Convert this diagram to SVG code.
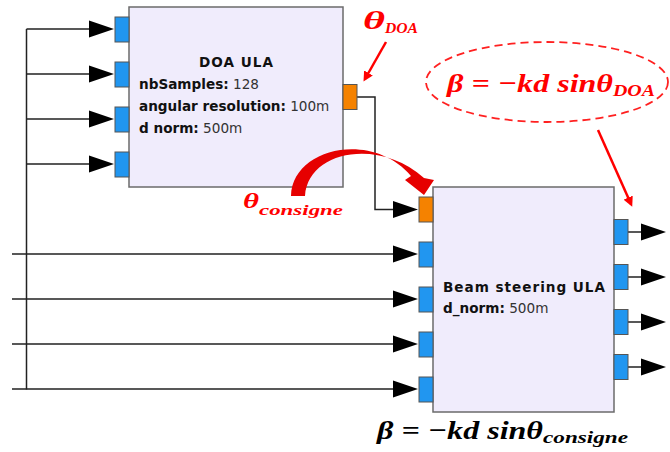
<svg xmlns="http://www.w3.org/2000/svg" width="670" height="452" viewBox="0 0 670 452">
<style>
.blk{fill:#f0ecfc;stroke:#6b6b6b;stroke-width:1.5}
.pin{fill:#2196f0;stroke:#555;stroke-width:1}
.pout{fill:#f58200;stroke:#555;stroke-width:1}
.wire{fill:none;stroke:#222;stroke-width:1.5}
.ah{fill:#000}
.t{font-family:"DejaVu Sans",sans-serif;font-size:13.6px;fill:#333}
.b{font-weight:bold;fill:#111}
.m{font-family:"Liberation Serif","DejaVu Serif",serif;font-weight:bold;font-style:italic}
.red{fill:#ff0000}
.rl{stroke:#ff0000;stroke-width:2.5;fill:none}
</style>
<defs>
<marker id="ra" markerWidth="10" markerHeight="10" refX="7" refY="5" orient="auto" markerUnits="userSpaceOnUse" viewBox="0 0 10 10">
<path d="M0,0 L10,5 L0,10 z" fill="#ff0000"/>
</marker>
<path id="arr" d="M0,-8.5 L25,0 L0,8.5 z" class="ah"/>
</defs>

<g id="connectors">
<path class="wire" d="M26.5,29 V389.5"/>
<path class="wire" d="M26.5,29 H92 M26.5,74 H92 M26.5,119 H92 M26.5,164 H92"/>
<path class="wire" d="M12,254 H396 M12,299 H396 M12,344 H396 M12,389 H396"/>
<path class="wire" d="M357,97 H375 V209.5 H396"/>
<path class="wire" d="M628,232 H644 M628,277 H644 M628,322 H644 M628,367 H644"/>
<use href="#arr" x="89" y="29"/>
<use href="#arr" x="89" y="74"/>
<use href="#arr" x="89" y="119"/>
<use href="#arr" x="89" y="164"/>
<use href="#arr" x="393" y="209.5"/>
<use href="#arr" x="393" y="254"/>
<use href="#arr" x="393" y="299"/>
<use href="#arr" x="393" y="344"/>
<use href="#arr" x="393" y="389"/>
<use href="#arr" x="641" y="232"/>
<use href="#arr" x="641" y="277"/>
<use href="#arr" x="641" y="322"/>
<use href="#arr" x="641" y="367"/>
</g>

<g id="doa_ula">
<rect class="blk" x="129" y="7" width="214" height="180"/>
<rect class="pin" x="115" y="17" width="14" height="25"/>
<rect class="pin" x="115" y="62" width="14" height="25"/>
<rect class="pin" x="115" y="107" width="14" height="25"/>
<rect class="pin" x="115" y="152" width="14" height="25"/>
<rect class="pout" x="343" y="84.5" width="14" height="25"/>
<text class="t b" x="199" y="67" textLength="74" lengthAdjust="spacing">DOA ULA</text>
<text class="t" x="139" y="89"><tspan class="b">nbSamples:</tspan> 128</text>
<text class="t" x="139" y="111"><tspan class="b">angular resolution:</tspan> 100m</text>
<text class="t" x="139" y="133"><tspan class="b">d norm:</tspan> 500m</text>
</g>

<g id="beam_steering_ula">
<rect class="blk" x="433" y="187" width="181" height="225"/>
<rect class="pout" x="419" y="197" width="14" height="25"/>
<rect class="pin" x="419" y="242" width="14" height="25"/>
<rect class="pin" x="419" y="287" width="14" height="25"/>
<rect class="pin" x="419" y="332" width="14" height="25"/>
<rect class="pin" x="419" y="377" width="14" height="25"/>
<rect class="pin" x="614" y="219.5" width="14" height="25"/>
<rect class="pin" x="614" y="264.5" width="14" height="25"/>
<rect class="pin" x="614" y="309.5" width="14" height="25"/>
<rect class="pin" x="614" y="354.5" width="14" height="25"/>
<text class="t b" x="443" y="292" textLength="162" lengthAdjust="spacing">Beam steering ULA</text>
<text class="t" x="443" y="313"><tspan class="b">d_norm:</tspan> 500m</text>
</g>

<g id="theta_doa">
<text class="m red" x="363" y="29" font-size="25" textLength="22" lengthAdjust="spacingAndGlyphs">θ</text>
<text class="m red" x="385" y="33" font-size="15" textLength="33" lengthAdjust="spacingAndGlyphs">DOA</text>
<line class="rl" x1="386" y1="42" x2="365" y2="79" marker-end="url(#ra)"/>
</g>

<g id="beta_doa">
<ellipse cx="547" cy="82" rx="121" ry="40" fill="none" stroke="#ff2020" stroke-width="1.8" stroke-dasharray="8 5"/>
<text class="m red" x="447" y="92" font-size="26" textLength="166" lengthAdjust="spacingAndGlyphs">β = −kd sinθ</text>
<text class="m red" x="613" y="96" font-size="16" textLength="42" lengthAdjust="spacingAndGlyphs">DOA</text>
<line class="rl" x1="598" y1="130" x2="631" y2="204" marker-end="url(#ra)"/>
</g>

<g id="theta_consigne">
<path fill="#e60000" d="M291,196 C292,148 372,130 411,176 L405,180 L424,195 L434,180 L424,178 C380,138 308,150 305,196 Z"/>
<text class="m red" x="243" y="208" font-size="21" textLength="16" lengthAdjust="spacingAndGlyphs">θ</text>
<text class="m red" x="259" y="215" font-size="15" textLength="84" lengthAdjust="spacingAndGlyphs">consigne</text>
</g>

<g id="beta_consigne">
<text class="m" x="377" y="439" font-size="26" fill="#000" textLength="166" lengthAdjust="spacingAndGlyphs">β = −kd sinθ</text>
<text class="m" x="543" y="443" font-size="16" fill="#000" textLength="85" lengthAdjust="spacingAndGlyphs">consigne</text>
</g>
</svg>
